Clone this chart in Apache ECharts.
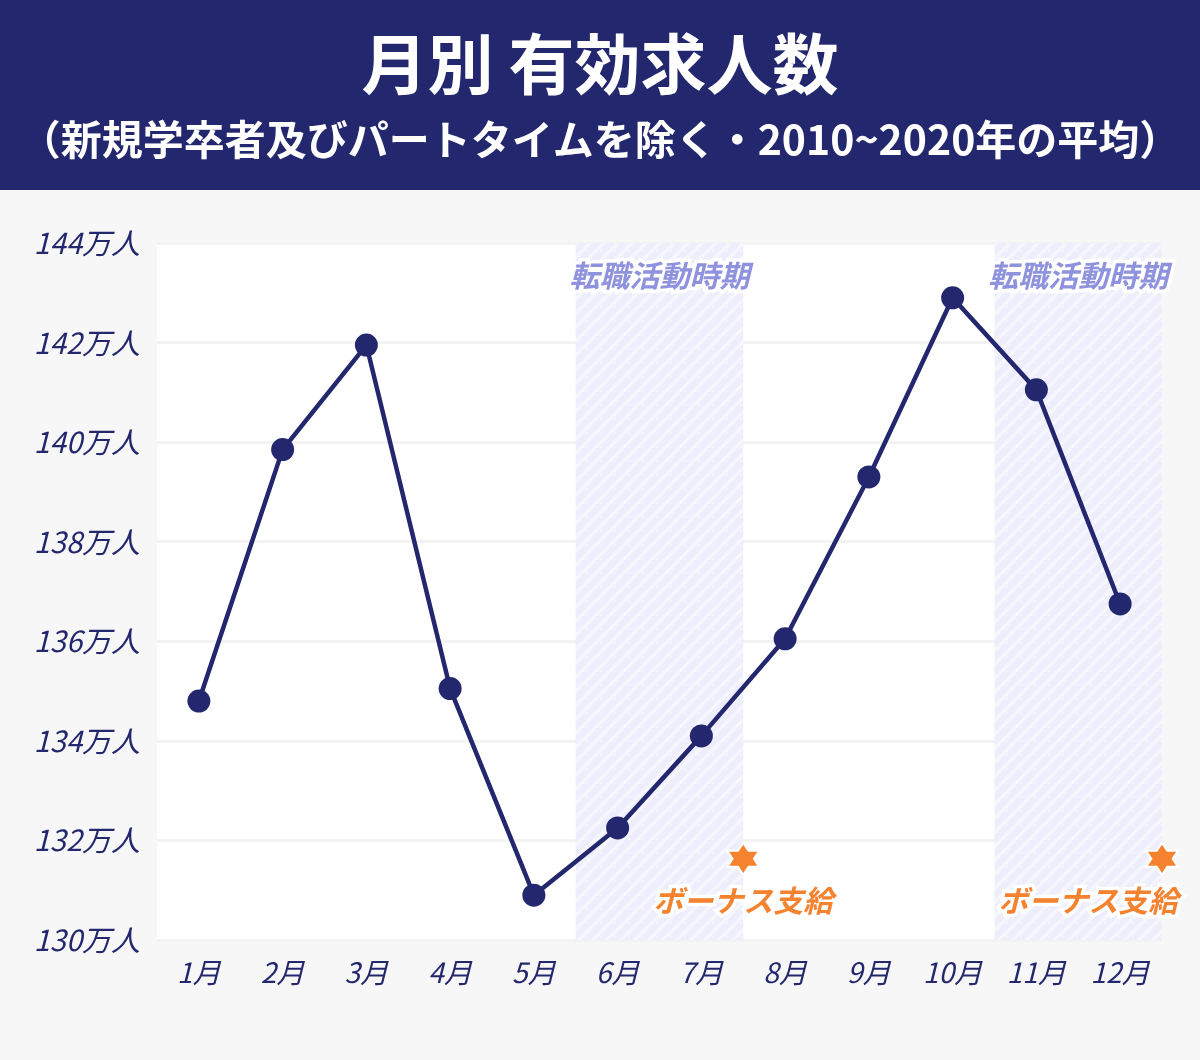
<!DOCTYPE html>
<html>
<head>
<meta charset="utf-8">
<script src="https://cdn.jsdelivr.net/npm/echarts@6/dist/echarts.min.js"></script>
<style>
  html, body { margin: 0; padding: 0; background: #f7f7f7; }
  #chart { width: 1200px; height: 1060px; }
</style>
</head>
<body>
<div id="chart"></div>
<script>
var months = ['1月', '2月', '3月', '4月', '5月', '6月', '7月', '8月', '9月', '10月', '11月', '12月'];
var jobOffers = [134.8, 139.85, 141.95, 135.05, 130.9, 132.25, 134.1, 136.05, 139.3, 142.9, 141.05, 136.75];
var yTicks = [130, 132, 134, 136, 138, 140, 142, 144];
// 転職活動時期: band positions on a 0..12 month scale
var jobHuntRanges = [[5, 7], [10, 12]];
// ボーナス支給: star at month boundary, text centre
var bonusStars = [[7, 131.63], [12, 131.63]];
var bonusLabels = [[7, 130.8], [11.12, 130.8]];

var NAVY = '#23276e';
var ORANGE = '#f5822f';
var FONT = '"Noto Sans CJK JP", "Noto Sans", sans-serif';

// hatched fill
var pat = document.createElement('canvas');
pat.width = 14; pat.height = 14;
var pc = pat.getContext('2d');
pc.fillStyle = '#ededfc';
pc.fillRect(0, 0, 14, 14);
pc.strokeStyle = '#f6f6fe';
pc.lineWidth = 3.5;
pc.beginPath();
pc.moveTo(-7, 14); pc.lineTo(7, 0);
pc.moveTo(0, 21); pc.lineTo(21, 0);
pc.moveTo(7, 21); pc.lineTo(21, 7);
pc.stroke();

var chart = echarts.init(document.getElementById('chart'));
var star = 'path://M0,-10 L2.89,-5 L8.66,-5 L5.77,0 L8.66,5 L2.89,5 L0,10 L-2.89,5 L-8.66,5 L-5.77,0 L-8.66,-5 L-2.89,-5Z';

var option = {
  backgroundColor: '#f7f7f7',
  animation: false,
  graphic: [{
    type: 'rect', left: 0, top: 0, z: -10,
    shape: { width: 1200, height: 190 },
    style: { fill: NAVY }
  }],
  title: [{
    text: '月別 有効求人数',
    left: 'center', top: 26,
    textStyle: { color: '#fff', fontSize: 66, fontWeight: 'bold', fontFamily: FONT }
  }, {
    text: '（新規学卒者及びパートタイムを除く・2010~2020年の平均）',
    left: 'center', top: 114,
    textStyle: { color: '#fff', fontSize: 41, fontWeight: 'bold', fontFamily: FONT }
  }],
  grid: {
    left: 157, right: 38, top: 243, bottom: 120,
    show: true, backgroundColor: '#ffffff', borderWidth: 0,
    containLabel: false
  },
  xAxis: [{
    type: 'category',
    data: months,
    boundaryGap: true,
    axisLine: { show: false },
    axisTick: { show: false },
    axisLabel: {
      color: NAVY, fontSize: 28, fontStyle: 'italic', fontFamily: FONT, margin: 18
    }
  }, {
    type: 'value', min: 0, max: 12, show: false
  }],
  yAxis: {
    type: 'value',
    min: yTicks[0], max: yTicks[yTicks.length - 1], interval: 2,
    axisLine: { show: false },
    axisTick: { show: false },
    splitLine: { lineStyle: { color: '#f3f3f3', width: 3 } },
    axisLabel: {
      color: NAVY, fontSize: 29, fontStyle: 'italic', fontFamily: FONT, margin: 17,
      formatter: function (v) { return v + '万人'; }
    }
  },
  series: [{
    type: 'line',
    xAxisIndex: 1,
    data: [],
    z: 1,
    silent: true,
    markArea: {
      silent: true,
      itemStyle: { color: { image: pat, repeat: 'repeat' } },
      label: {
        show: true, position: 'insideTop', distance: 18,
        color: '#8f93de', fontSize: 30, fontWeight: 'bold', fontStyle: 'italic', fontFamily: FONT,
        textBorderColor: '#ffffff', textBorderWidth: 7
      },
      data: jobHuntRanges.map(function (r) {
        return [{ xAxis: r[0], name: '転職活動時期' }, { xAxis: r[1] }];
      })
    },
    markPoint: {
      silent: true,
      data: bonusStars.map(function (p) {
        return {
          coord: p, symbol: star, symbolSize: 32,
          itemStyle: { color: ORANGE, borderColor: '#fff', borderWidth: 2 },
          label: { show: false }
        };
      }).concat(bonusLabels.map(function (p) {
        return {
          coord: p, symbol: 'circle', symbolSize: 1,
          itemStyle: { color: 'rgba(0,0,0,0)' },
          label: {
            show: true, position: 'inside', formatter: 'ボーナス支給',
            color: ORANGE, fontSize: 30, fontWeight: 'bold', fontStyle: 'italic', fontFamily: FONT,
            textBorderColor: '#ffffff', textBorderWidth: 7
          }
        };
      }))
    }
  }, {
    type: 'line',
    name: '有効求人数',
    data: jobOffers,
    z: 5,
    symbol: 'circle',
    symbolSize: 23,
    lineStyle: { color: NAVY, width: 4.5 },
    itemStyle: { color: NAVY }
  }]
};
chart.setOption(option);
</script>
</body>
</html>
